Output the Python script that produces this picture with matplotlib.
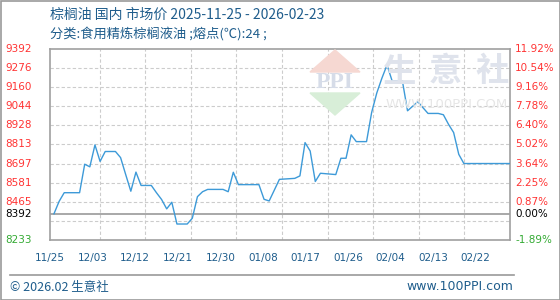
import pandas as pd
import numpy as np
import matplotlib
matplotlib.use("Agg")
import matplotlib.pyplot as plt
from matplotlib.patches import Polygon, Rectangle
from matplotlib.transforms import blended_transform_factory

plt.rcParams['font.family'] = ['Noto Sans CJK SC', 'DejaVu Sans']

# ---------------- données ----------------
dates = ["2025-11-25", "2025-11-26", "2025-11-27", "2025-11-30", "2025-12-01",
         "2025-12-02", "2025-12-03", "2025-12-04", "2025-12-05", "2025-12-07",
         "2025-12-08", "2025-12-09", "2025-12-10", "2025-12-11", "2025-12-12",
         "2025-12-14", "2025-12-15", "2025-12-16", "2025-12-17", "2025-12-18",
         "2025-12-19", "2025-12-21", "2025-12-22", "2025-12-23", "2025-12-24",
         "2025-12-25", "2025-12-28", "2025-12-29", "2025-12-30", "2025-12-31",
         "2026-01-04", "2026-01-05", "2026-01-06", "2026-01-08", "2026-01-11",
         "2026-01-12", "2026-01-13", "2026-01-14", "2026-01-15", "2026-01-16",
         "2026-01-19", "2026-01-20", "2026-01-21", "2026-01-22", "2026-01-23",
         "2026-01-25", "2026-01-26", "2026-01-27", "2026-01-28", "2026-01-29",
         "2026-01-30", "2026-02-01", "2026-02-02", "2026-02-04", "2026-02-06",
         "2026-02-08", "2026-02-09", "2026-02-10", "2026-02-11", "2026-02-12",
         "2026-02-13", "2026-02-22"]
prix = [8392, 8467, 8520, 8520, 8693,
        8677, 8810, 8710, 8770, 8770,
        8733, 8630, 8529, 8645, 8564,
        8564, 8520, 8479, 8422, 8462,
        8330, 8330, 8365, 8496, 8526,
        8540, 8540, 8526, 8644, 8569,
        8569, 8480, 8470, 8601, 8607,
        8622, 8824, 8773, 8588, 8638,
        8630, 8729, 8729, 8871, 8830,
        8830, 9007, 9125, 9215, 9295,
        9198, 9198, 9017, 9072, 9001,
        9001, 8993, 8935, 8885, 8753,
        8697, 8697]

base = 8392
y_min, y_max = 8233, 9392
labels_gauche = ["9392", "9276", "9160", "9044", "8928", "8813", "8697", "8581", "8465", "8392", "8233"]
valeurs_gauche = [9392, 9276.1, 9160.2, 9044.3, 8928.4, 8812.5, 8696.6, 8580.7, 8464.8, 8392, 8233]
labels_droite = ["11.92%", "10.54%", "9.16%", "7.78%", "6.40%", "5.02%", "3.64%", "2.25%", "0.87%", "0.00%", "-1.89%"]
dates_axe = ["11/25", "12/03", "12/12", "12/21", "12/30", "01/08", "01/17", "01/26", "02/04", "02/13", "02/22"]

df = pd.DataFrame({"date": pd.to_datetime(dates), "prix": prix})
df["jour"] = (df["date"] - df["date"].iloc[0]).dt.days
n_jours = df["jour"].iloc[-1]

W, H = 560, 300
fig = plt.figure(figsize=(W / 100, H / 100), dpi=100)
ax = fig.add_axes([50 / W, 1 - 240 / H, 460 / W, 191 / H])

def fx(x):
    return x / W

def fy(y):
    return 1 - y / H

bleu_txt = "#1f5d8c"
rouge = "#ff3333"
vert = "#33aa33"

# filigrane
logo_r = Polygon([[fx(310), fy(72)], [fx(335), fy(50)], [fx(360), fy(72)]], closed=True,
                 transform=fig.transFigure, color="#f6d8d2", zorder=0)
logo_v = Polygon([[fx(310), fy(93)], [fx(335), fy(115)], [fx(360), fy(93)]], closed=True,
                 transform=fig.transFigure, color="#d8eed8", zorder=0)
fig.patches.extend([logo_r, logo_v])
fig.text(fx(335), fy(83), "PPI", ha="center", va="center", fontsize=17, color="#d6dce8",
         family="Liberation Serif", fontweight="bold", zorder=0)
for cx, ch in zip([400, 445, 492], ["生", "意", "社"]):
    fig.text(fx(cx), fy(72), ch, ha="center", va="center", fontsize=24, color="#dfe3ec",
             fontweight="bold", zorder=0)
fig.text(fx(447), fy(105), "WWW.100PPI.COM", ha="center", va="center", fontsize=9.5,
         color="#e6e6e6", family="DejaVu Sans", zorder=0)

ax.set_facecolor("none")
ax.plot(df["jour"], df["prix"], color="#3d9ad8", lw=1.0, zorder=3)

ax.set_xlim(0, n_jours)
ax.set_ylim(y_min, y_max)

# grille
for v in valeurs_gauche[1:-1]:
    if v == base:
        continue
    ax.axhline(v, color="#cccccc", lw=0.8, ls=(0, (3, 2)), zorder=1)
ax.axhline(y_min + (y_max - y_min) / 10, color="#cccccc", lw=0.8, ls=(0, (3, 2)), zorder=1)
for xg in np.linspace(0, n_jours, 11)[1:-1]:
    ax.axvline(xg, color="#cccccc", lw=0.8, ls=(0, (3, 2)), zorder=1)
ax.axhline(base, color="#999999", lw=1.2, zorder=2)

for s in ax.spines.values():
    s.set_color("#a0a0a0")
    s.set_linewidth(1.2)

ax.set_yticks([])
pos_x = (np.linspace(46, 475.5, 11) - 50) / 460 * n_jours
ax.set_xticks(pos_x)
ax.set_xticklabels(dates_axe, fontsize=7.5, color=bleu_txt, family="DejaVu Sans")
ax.tick_params(axis="x", length=0, pad=9)

tr = blended_transform_factory(fig.transFigure, ax.transData)
for v, lab in zip(valeurs_gauche, labels_gauche):
    c = rouge if v > base else ("black" if v == base else vert)
    ax.text(fx(5), v, lab, transform=tr, ha="left", va="center", fontsize=7.5, color=c,
            family="DejaVu Sans")
for v, lab in zip(valeurs_gauche, labels_droite):
    c = rouge if v > base else ("black" if v == base else vert)
    ax.text(fx(515), v, lab, transform=tr, ha="left", va="center", fontsize=7.5, color=c,
            family="DejaVu Sans")

# titres
fig.text(fx(50), fy(15), "棕榈油 国内 市场价 2025-11-25 - 2026-02-23", ha="left", va="center",
         fontsize=10, color=bleu_txt)
fig.text(fx(50), fy(34), "分类:食用精炼棕榈液油 ;熔点(℃):24 ;", ha="left", va="center",
         fontsize=9.5, color=bleu_txt)

# pied de page
fig.add_artist(plt.Line2D([fx(10), fx(514)], [fy(275), fy(275)], color="#999999", lw=1.2))
fig.text(fx(10), fy(287), "© 2026.02 生意社", ha="left", va="center", fontsize=9, color=bleu_txt)
fig.text(fx(513), fy(287), "www.100PPI.com", ha="right", va="center", fontsize=9, color=bleu_txt,
         family="DejaVu Sans")

fig.patches.append(Rectangle((0.5 / W, 0.5 / H), 1 - 1 / W, 1 - 1 / H, transform=fig.transFigure,
                             fill=False, edgecolor="#999999", lw=1.2))

fig.savefig("out.png", dpi=100)
